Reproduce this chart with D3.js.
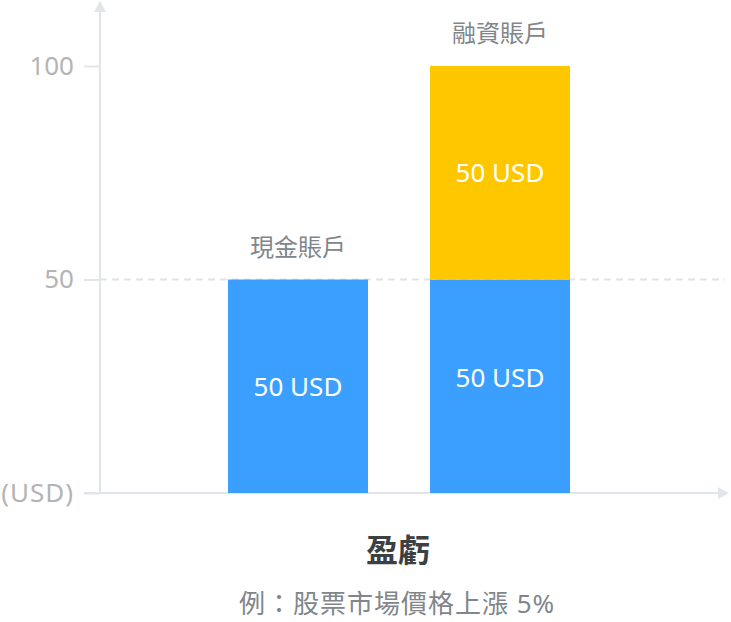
<!DOCTYPE html>
<html>
<head>
<meta charset="utf-8">
<script src="https://cdn.jsdelivr.net/npm/d3@7"></script>
<style>
  body { margin: 0; background: #fff; }
  text { font-family: "Noto Sans", "Noto Sans CJK TC", sans-serif; }
</style>
</head>
<body>
<div id="chart"></div>
<script>
// data
let categories = ["現金賬戶", "融資賬戶"];
let ownFunds = [50, 50];
let borrowed = [0, 50];
let valueLabels = [["50 USD", ""], ["50 USD", "50 USD"]];
let tickValues = [0, 50, 100];
let title = "盈虧";
let subtitle = "例：股票市場價格上漲 5%";

let width = 731;
let height = 622;

let blue = "#3a9fff";
let yellow = "#ffc700";
let axisColor = "#e1e4e8";

let svg = d3.select('#chart')
    .append('svg')
        .attr('width', width)
        .attr('height', height);

let x = d3.scaleBand()
    .domain(categories)
    .range([228, 570])
    .paddingInner(62 / 202)
    .paddingOuter(0);

let y = d3.scaleLinear().domain([0, 100]).range([493, 66]);

// dashed gridline at 50
svg.append('line')
    .attr('x1', 100).attr('x2', 725)
    .attr('y1', y(50)).attr('y2', y(50))
    .attr('stroke', axisColor)
    .attr('stroke-width', 2)
    .attr('stroke-dasharray', '7,5');

// y axis
let yAxisCall = d3.axisLeft(y)
    .tickValues(tickValues)
    .tickSize(16)
    .tickPadding(10)
    .tickFormat(function (d) {
        return d === 0 ? "(USD)" : d;
    });

let yAxisGroup = svg.append('g')
    .attr('transform', 'translate(100,0)')
    .call(yAxisCall);

yAxisGroup.select('.domain').remove();
yAxisGroup.selectAll('line').attr('stroke', axisColor).attr('stroke-width', 2);
yAxisGroup.selectAll('text')
    .attr('fill', '#b4b4b4')
    .attr('font-size', '26px')
    .attr('font-family', '"Noto Sans", sans-serif');
yAxisGroup.selectAll('text')
    .filter(function (d) { return d === 0; })
    .attr('letter-spacing', '1px');

// axis lines with arrows
svg.append('line')
    .attr('x1', 100).attr('x2', 100)
    .attr('y1', y(0) + 1).attr('y2', 10)
    .attr('stroke', axisColor).attr('stroke-width', 2);
svg.append('path')
    .attr('d', 'M100,1 L94,12 L106,12 Z')
    .attr('fill', axisColor);

svg.append('line')
    .attr('x1', 84).attr('x2', 720)
    .attr('y1', y(0)).attr('y2', y(0))
    .attr('stroke', axisColor).attr('stroke-width', 2);
svg.append('path')
    .attr('d', 'M729,' + y(0) + ' L718,' + (y(0) - 6) + ' L718,' + (y(0) + 6) + ' Z')
    .attr('fill', axisColor);

// bars
let rows = categories.map(function (c, i) {
    return { cat: c, own: ownFunds[i], loan: borrowed[i], labels: valueLabels[i] };
});

let groups = svg.selectAll('g.bar')
    .data(rows)
    .enter()
    .append('g')
        .attr('class', 'bar');

groups.append('rect')
    .attr('x', function (d) { return x(d.cat); })
    .attr('width', x.bandwidth())
    .attr('y', function (d) { return y(d.own); })
    .attr('height', function (d) { return y(0) - y(d.own); })
    .attr('fill', blue);

groups.filter(function (d) { return d.loan > 0; })
    .append('rect')
        .attr('x', function (d) { return x(d.cat); })
        .attr('width', x.bandwidth())
        .attr('y', function (d) { return y(d.own + d.loan); })
        .attr('height', function (d) { return y(d.own) - y(d.own + d.loan); })
        .attr('fill', yellow);

// value labels inside bars
groups.append('text')
    .attr('x', function (d) { return x(d.cat) + x.bandwidth() / 2; })
    .attr('y', function (d, i) { return (i === 0 ? y(d.own / 2) + 1 : y(d.own / 2) - 8); })
    .attr('dy', '0.35em')
    .attr('text-anchor', 'middle')
    .attr('fill', '#fff')
    .attr('font-size', '26px')
    .text(function (d) { return d.labels[0]; });

groups.filter(function (d) { return d.loan > 0; })
    .append('text')
        .attr('x', function (d) { return x(d.cat) + x.bandwidth() / 2; })
        .attr('y', function (d) { return y(d.own + d.loan / 2); })
        .attr('dy', '0.35em')
        .attr('text-anchor', 'middle')
        .attr('fill', '#fff')
        .attr('font-size', '26px')
        .text(function (d) { return d.labels[1]; });

// category labels above bars
groups.append('text')
    .attr('x', function (d) { return x(d.cat) + x.bandwidth() / 2; })
    .attr('y', function (d) { return y(d.own + d.loan) - 32; })
    .attr('dy', '0.35em')
    .attr('text-anchor', 'middle')
    .attr('fill', '#80868b')
    .attr('font-size', '24px')
    .text(function (d) { return d.cat; });

// title and subtitle
svg.append('text')
    .attr('x', 398)
    .attr('y', 551)
    .attr('dy', '0.35em')
    .attr('text-anchor', 'middle')
    .attr('fill', '#3c4043')
    .attr('font-size', '32px')
    .attr('font-weight', 'bold')
    .text(title);

svg.append('text')
    .attr('x', 397)
    .attr('y', 604)
    .attr('dy', '0.35em')
    .attr('text-anchor', 'middle')
    .attr('fill', '#80868b')
    .attr('font-size', '26px')
    .attr('letter-spacing', '1px')
    .attr('font-family', '"Noto Sans", "Noto Sans CJK SC", sans-serif')
    .text(subtitle);
</script>
</body>
</html>
